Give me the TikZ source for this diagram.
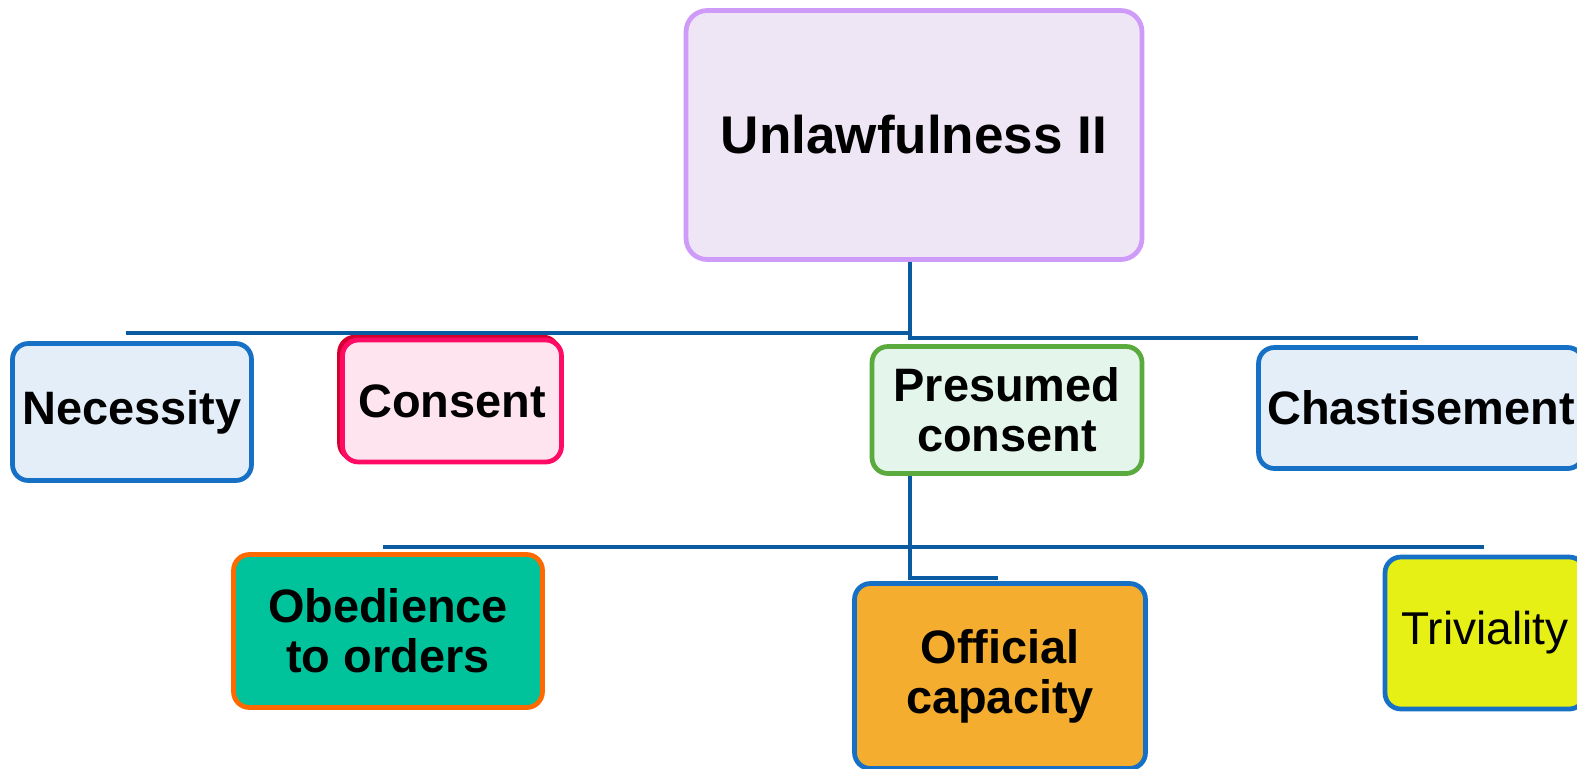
\documentclass[tikz,border=0pt]{standalone}
\usepackage{fontspec}
\setmainfont{Liberation Sans}
\definecolor{busBlue}{HTML}{0B5BA3}
\definecolor{boxBlue}{HTML}{1570C6}
\definecolor{paleBlue}{HTML}{E4EEF8}
\definecolor{rootLine}{HTML}{CF9BF9}
\definecolor{rootFill}{HTML}{EFE6F5}
\definecolor{consentLine}{HTML}{FF0A64}
\definecolor{consentDark}{HTML}{D6002F}
\definecolor{consentFill}{HTML}{FEE4EF}
\definecolor{presumedLine}{HTML}{5BAA3E}
\definecolor{presumedFill}{HTML}{E4F5EB}
\definecolor{obedienceLine}{HTML}{FF6A00}
\definecolor{obedienceFill}{HTML}{00C39B}
\definecolor{officialFill}{HTML}{F4AD2F}
\definecolor{trivialFill}{HTML}{E6F015}
\tikzstyle{box}=[draw, rounded corners=9pt, line width=2.7pt, inner sep=2pt, align=center, font=\fontsize{26.7}{28.5}\selectfont\bfseries]
\tikzstyle{bluebox}=[box, draw=boxBlue, fill=paleBlue]
\tikzstyle{bus}=[line width=2.4pt, draw=busBlue]

\begin{document}
\begin{tikzpicture}[x=0.02cm, y=-0.02cm]
    \clip (0,0) rectangle (1577,768);
    \fill[white] (0,0) rectangle (1577,768);

    % nodes
    \node[box, draw=rootLine, fill=rootFill, rounded corners=12pt, minimum width=9.12cm, minimum height=4.98cm, font=\fontsize{30.2}{32}\selectfont\bfseries] (root) at (914,135) {Unlawfulness II};
    \node[bluebox, minimum width=4.78cm, minimum height=2.74cm] (necessity) at (132,412) {Necessity};
    \node[box, draw=consentDark, fill=consentDark, minimum width=4.38cm, minimum height=2.44cm] (consentShade) at (449,398) {};
    \node[box, draw=consentLine, fill=consentFill, minimum width=4.38cm, minimum height=2.44cm] (consent) at (452,401) {Consent};
    \node[box, draw=presumedLine, fill=presumedFill, minimum width=5.40cm, minimum height=2.54cm] (presumed) at (1007,410) {Presumed\\consent};
    \node[bluebox, minimum width=6.50cm, minimum height=2.42cm] (chastisement) at (1421,408) {Chastisement};
    \node[box, draw=obedienceLine, fill=obedienceFill, minimum width=6.18cm, minimum height=3.06cm] (obedience) at (388,631) {Obedience\\to orders};
    \node[box, draw=boxBlue, fill=officialFill, minimum width=5.82cm, minimum height=3.70cm] (official) at (1000,676) {Official\\capacity};
    \node[box, draw=boxBlue, fill=trivialFill, minimum width=4.00cm, minimum height=3.04cm, font=\fontsize{26.2}{28}\selectfont] (triviality) at (1485,633) {Triviality};

    % bus lines
    \coordinate (trunk) at (910,333);
    \coordinate (busLeft) at (126,333);
    \coordinate (busRight) at (1418,338);
    \coordinate (trunkLow) at (910,547);
    \coordinate (busLowLeft) at (383,547);
    \coordinate (busLowRight) at (1484,547);
    \coordinate (stub) at (998,578);

    \draw[bus] (trunk |- root.south) -- (trunk) -- (busLeft);
    \draw[bus] (trunk) -- (trunk |- busRight) -- (busRight);
    \draw[bus] (busLowLeft) -- (busLowRight);
    \draw[bus] (trunkLow |- presumed.south) -- (trunkLow |- stub) -- (stub);
\end{tikzpicture}
\end{document}
